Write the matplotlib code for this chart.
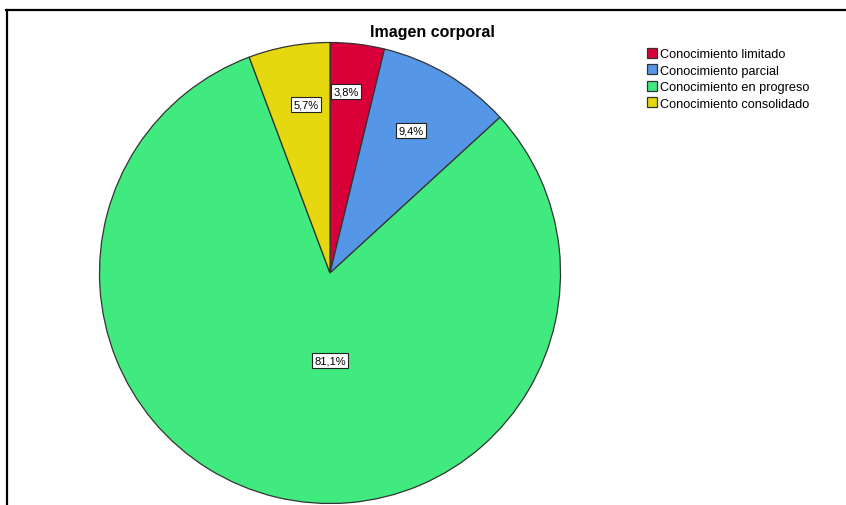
import numpy as np
import matplotlib.pyplot as plt
from matplotlib.lines import Line2D

plt.rcParams['font.family'] = ['Liberation Sans', 'DejaVu Sans']

categories = ["Conocimiento limitado", "Conocimiento parcial",
              "Conocimiento en progreso", "Conocimiento consolidado"]
values = [3.8, 9.4, 81.1, 5.7]
labels = ["3,8%", "9,4%", "81,1%", "5,7%"]
colors = ["#D9003A", "#5596E6", "#41EA7F", "#E5D80E"]
# label placement inside each slice (angle in degrees, fraction of radius)
label_ang = [85, 60.5, -90, 98]
label_r = [0.79, 0.71, 0.38, 0.74]

W, H = 846, 506
fig = plt.figure(figsize=(W / 100, H / 100), dpi=100)

cx, cy, r = 330, 274, 230.5
ax = fig.add_axes([(cx - r) / W, (H - cy - r) / H, 2 * r / W, 2 * r / H])
wedges, _ = ax.pie(values, colors=colors, startangle=90, counterclock=False,
                   wedgeprops={"edgecolor": "#333333", "linewidth": 0.9})
for w in wedges:
    w.set_clip_on(False)
ax.set_xlim(-1, 1)
ax.set_ylim(-1, 1)
ax.set_aspect("equal")
ax.axis("off")

for lab, la, lr in zip(labels, label_ang, label_r):
    ang = np.deg2rad(la)
    ax.text(lr * np.cos(ang), lr * np.sin(ang), lab, ha="center", va="center",
            fontsize=8,
            bbox={"boxstyle": "square,pad=0.22", "facecolor": "white",
                  "edgecolor": "#222222", "linewidth": 0.8})

fig.text(432 / W, 1 - 33 / H, "Imagen corporal", ha="center", va="center",
         fontsize=11.5, fontweight="bold")

fig.legend(wedges, categories, loc="upper left",
           bbox_to_anchor=(638 / W, 1 - 40 / H), frameon=False, fontsize=9.2,
           handlelength=0.8, handleheight=0.8, handletextpad=0.25,
           labelspacing=0.32, borderpad=0.2)

fig.add_artist(Line2D([6 / W, 846 / W], [1 - 10.5 / H, 1 - 10.5 / H],
                      transform=fig.transFigure, color="black", linewidth=1.6))
fig.add_artist(Line2D([6.5 / W, 6.5 / W], [0, 1 - 10.5 / H],
                      transform=fig.transFigure, color="black", linewidth=1.6))

fig.savefig("out.png", dpi=100)
